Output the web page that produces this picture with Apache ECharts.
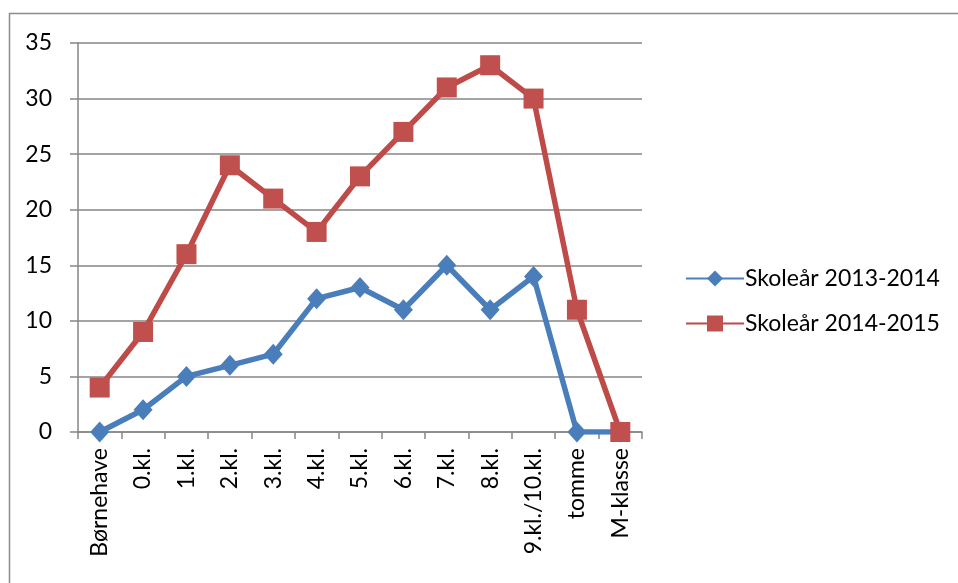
<!DOCTYPE html>
<html>
<head>
<meta charset="utf-8">
<script src="https://cdn.jsdelivr.net/npm/echarts@6/dist/echarts.min.js"></script>
<style>
html,body{margin:0;padding:0;background:#fff;}
#chart{width:958px;height:583px;}
</style>
</head>
<body>
<div id="chart"></div>
<script>
var categories = ['Børnehave','0.kl.','1.kl.','2.kl.','3.kl.','4.kl.','5.kl.','6.kl.','7.kl.','8.kl.','9.kl./10.kl.','tomme','M-klasse'];
var seriesNames = ['Skoleår 2013-2014','Skoleår 2014-2015'];
var values2013 = [0,2,5,6,7,12,13,11,15,11,14,0,0];
var values2014 = [4,9,16,24,21,18,23,27,31,33,30,11,0];
var yTicks = {min:0,max:35,interval:5};

var chart = echarts.init(document.getElementById('chart'));
var font = 'Lato, "Liberation Sans", sans-serif';
chart.setOption({
  animation:false,
  backgroundColor:'#ffffff',
  graphic:[{type:'rect',shape:{x:9.5,y:13.5,width:980,height:620},style:{fill:'none',stroke:'#8c8c8c',lineWidth:1.5},silent:true}],
  grid:{left:78,right:316,top:43,bottom:151,containLabel:false},
  legend:{
    left:680,top:262,orient:'vertical',itemGap:22,itemWidth:58,itemHeight:20,
    textStyle:{fontFamily:font,fontSize:23,color:'#000',padding:[0,0,0,-4]},
    data:seriesNames
  },
  xAxis:{
    type:'category',data:categories,boundaryGap:true,
    axisLine:{lineStyle:{color:'#868686',width:1.5}},
    axisTick:{show:true,alignWithLabel:false,length:7,lineStyle:{color:'#868686',width:1.5}},
    axisLabel:{rotate:90,interval:0,margin:16,fontFamily:font,fontSize:23,color:'#000'}
  },
  yAxis:{
    type:'value',min:yTicks.min,max:yTicks.max,interval:yTicks.interval,
    axisLine:{show:true,lineStyle:{color:'#868686',width:1.5}},
    axisTick:{show:true,length:8,lineStyle:{color:'#868686',width:1.5}},
    splitLine:{lineStyle:{color:'#868686',width:1.5}},
    axisLabel:{margin:26,fontFamily:font,fontSize:23,color:'#000'}
  },
  series:[
    {name:seriesNames[0],type:'line',data:values2013,symbol:'diamond',symbolSize:[19,21],
     lineStyle:{color:'#4a7ebb',width:5.5},itemStyle:{color:'#4a7ebb'}},
    {name:seriesNames[1],type:'line',data:values2014,symbol:'rect',symbolSize:20,
     lineStyle:{color:'#be4b48',width:5.5},itemStyle:{color:'#c0504d'}}
  ]
});
</script>
</body>
</html>
